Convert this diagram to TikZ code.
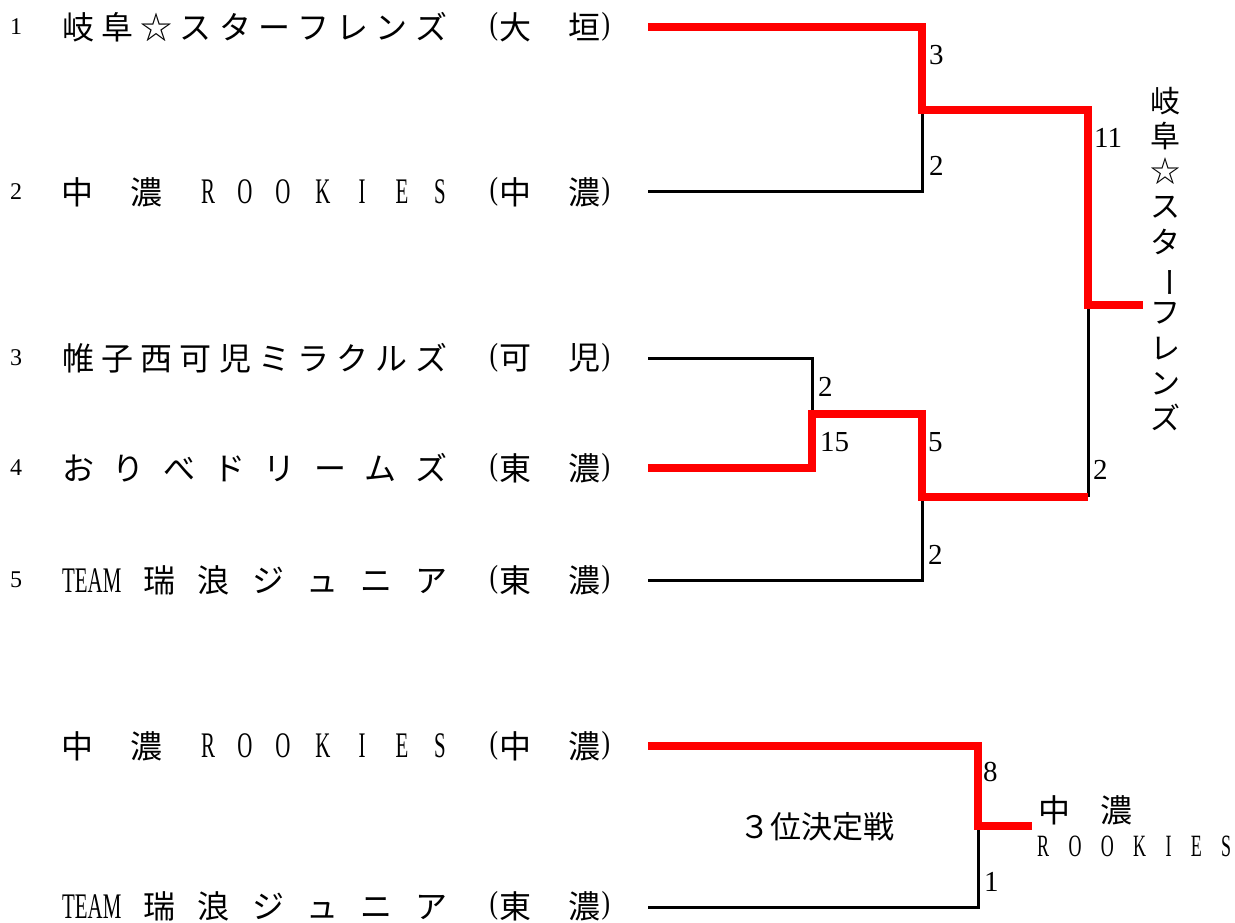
\documentclass[tikz,border=0pt]{standalone}
\usepackage{fontspec}
\usepackage{graphicx}
\newfontfamily\jpfam{Noto Sans CJK JP}
\newfontfamily\latc[FakeStretch=0.58]{Liberation Serif}
\newfontfamily\latn{Liberation Serif}
\newcommand\jpf{\jpfam\fontsize{32}{32}\selectfont}
\newcommand\latf{\latc\fontsize{36}{36}\selectfont}
\newcommand\parf{\latn\fontsize{32}{32}\selectfont}
\newcommand\rl[1]{{\latf #1}}
\newcommand\hf{\hfill}
\newcommand\regionrow[4]{%
  \node[paren] (#1l) at (494,#2) {(};
  \node[jch] (#1x) at (515,#2) {#3};
  \node[jch] (#1y) at (584,#2) {#4};
  \node[paren] (#1r) at (606,#2) {)};
}
\newcommand\rookiesrow[2]{%
  \node[jch] (#1a) at (77,#2) {中};
  \node[jch] (#1b) at (146,#2) {濃};
  \node[latl] (#1c) at (208,#2) {R};
  \node[latl] (#1d) at (245,#2) {O};
  \node[latl] (#1e) at (283,#2) {O};
  \node[latl] (#1f) at (323,#2) {K};
  \node[latl] (#1g) at (362,#2) {I};
  \node[latl] (#1h) at (402,#2) {E};
  \node[latl] (#1i) at (440,#2) {S};
}
\begin{document}
\begin{tikzpicture}[x=1pt,y=-1pt,
  winline/.style={draw=red, line width=8pt, line join=miter},
  loseline/.style={draw=black, line width=3pt, line join=miter},
  namebox/.style={anchor=west, inner sep=0pt, font=\jpf},
  jch/.style={inner sep=0pt, font=\jpf},
  latl/.style={inner sep=0pt, font=\latf},
  paren/.style={inner sep=0pt, xscale=0.8, font=\parf},
  seed/.style={inner sep=0pt, font=\latn\fontsize{24}{24}\selectfont},
  score/.style={inner sep=0pt, anchor=west, font=\latn\fontsize{29}{29}\selectfont},
]
\useasboundingbox (0,0) rectangle (1235,923);

% seeds
\node[seed] (sd1) at (16,27) {1};
\node[seed] (sd2) at (16,192) {2};
\node[seed] (sd3) at (16,358) {3};
\node[seed] (sd4) at (16,468) {4};
\node[seed] (sd5) at (16,580) {5};

% team names
\node[namebox] (n1) at (62,27) {\makebox[385pt][s]{岐\hf 阜\hf ☆\hf ス\hf タ\hf ー\hf フ\hf レ\hf ン\hf ズ}};
\rookiesrow{n2}{192}
\node[namebox] (n3) at (62,358) {\makebox[385pt][s]{帷\hf 子\hf 西\hf 可\hf 児\hf ミ\hf ラ\hf ク\hf ル\hf ズ}};
\node[namebox] (n4) at (62,468) {\makebox[385pt][s]{お\hf り\hf べ\hf ド\hf リ\hf ー\hf ム\hf ズ}};
\node[namebox] (n5) at (62,580) {\makebox[385pt][s]{\rl{TEAM}\hf 瑞\hf 浪\hf ジ\hf ュ\hf ニ\hf ア}};
\rookiesrow{n6}{746}
\node[namebox] (n7) at (62,906) {\makebox[385pt][s]{\rl{TEAM}\hf 瑞\hf 浪\hf ジ\hf ュ\hf ニ\hf ア}};

\regionrow{r1}{27}{大}{垣}
\regionrow{r2}{192}{中}{濃}
\regionrow{r3}{358}{可}{児}
\regionrow{r4}{468}{東}{濃}
\regionrow{r5}{580}{東}{濃}
\regionrow{r6}{746}{中}{濃}
\regionrow{r7}{906}{東}{濃}

% bracket points
\coordinate (t1e) at (648,27);
\coordinate (t2e) at (648,192);
\coordinate (t3e) at (648,358);
\coordinate (t4e) at (648,468);
\coordinate (t5e) at (648,580);
\coordinate (q1) at (922,110);
\coordinate (q2) at (812,414);
\coordinate (q3) at (922,497);
\coordinate (fin) at (1088,305);
\coordinate (champ) at (1143,305);
\coordinate (s1) at (1088,497);
\coordinate (u1e) at (648,746);
\coordinate (u2e) at (648,907);
\coordinate (tp) at (978,826);
\coordinate (tpw) at (1032,826);

% losing lines
\draw[loseline] (t2e) -| (q1);
\draw[loseline] (t3e) -| (q2);
\draw[loseline] (t5e) -| (q3);
\draw[loseline] (fin) -- (s1);
\draw[loseline] (u2e) -| (tp);
% winning lines
\draw[winline] (t1e) -| (q1) -| (fin) -- (champ);
\draw[winline] (t4e) -| (q2) -| (q3) -- (s1);
\draw[winline] (u1e) -| (tp) -- (tpw);

% scores
\node[score] (sc1) at (929,55) {3};
\node[score] (sc2) at (929,166) {2};
\node[score] (sc3) at (1094,138) {11};
\node[score] (sc4) at (1093,470) {2};
\node[score] (sc5) at (818,387) {2};
\node[score] (sc6) at (820,442) {15};
\node[score] (sc7) at (928,442) {5};
\node[score] (sc8) at (928,555) {2};
\node[score] (sc9) at (983,772) {8};
\node[score] (sc10) at (984,882) {1};

% champion (vertical)
\node[inner sep=0pt, align=center, font=\jpfam\fontsize{30}{35.3}\selectfont] (champion) at (1165,259)
  {岐\\阜\\☆\\ス\\タ\\\rotatebox[origin=c]{-90}{ー}\\フ\\レ\\ン\\ズ};

% third place
\node[inner sep=0pt, font=\jpfam\fontsize{31}{31}\selectfont] (third) at (817,827) {３位決定戦};
\node[jch] (tw1) at (1054,810) {中};
\node[jch] (tw2) at (1116,810) {濃};
\node[inner sep=0pt, anchor=west, font=\latc\fontsize{31}{31}\selectfont] (tw3) at (1037,846)
  {\makebox[194pt][s]{R\hf O\hf O\hf K\hf I\hf E\hf S}};
\end{tikzpicture}
\end{document}
